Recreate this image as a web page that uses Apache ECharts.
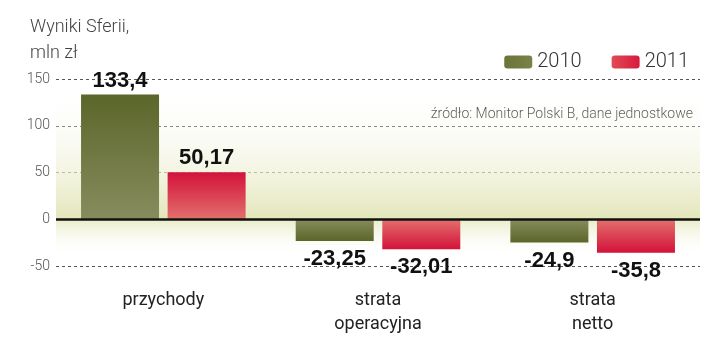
<!DOCTYPE html>
<html><head><meta charset="utf-8">
<script src="https://cdn.jsdelivr.net/npm/echarts@6/dist/echarts.min.js"></script>
<style>html,body{margin:0;padding:0;background:#fff;}#c{width:720px;height:357px;}</style>
</head><body><div id="c"></div>
<script>
var categories = ['przychody', 'strata\noperacyjna', 'strata\nnetto'];
var v2010 = [133.4, -23.25, -24.9];
var v2011 = [50.17, -32.01, -35.8];
var yTicks = [-50, 0, 50, 100, 150];
var seriesNames = ['2010', '2011'];

function grad(top, bottom) {
  return {type: 'linear', x: 0, y: 0, x2: 0, y2: 1, colorStops: [{offset: 0, color: top}, {offset: 1, color: bottom}]};
}
var greenDark = '#5b6629', greenLight = '#878c5e';
var redDark = '#d3123a', redLight = '#e2706d';
function items(vals, dark, light) {
  return vals.map(function (v) {
    return {
      value: v,
      itemStyle: {color: v >= 0 ? grad(dark, light) : grad(light, dark)},
      label: v >= 0 ? {position: 'top', distance: 3} : {position: 'bottom', distance: 7}
    };
  });
}
function fmt(p) { return String(p.value).replace('.', ','); }
var barLabel = {
  show: true, formatter: fmt, fontFamily: '"Liberation Sans", Arial, sans-serif', fontWeight: 'bold',
  fontSize: 22, color: '#111'
};

var chart = echarts.init(document.getElementById('c'), null, {renderer: 'canvas'});
chart.setOption({
  animation: false,
  backgroundColor: '#fff',
  title: {
    text: 'Wyniki Sferii,\nmln zł', left: 25, top: 9,
    textStyle: {fontFamily: 'Roboto', fontWeight: 300, fontSize: 18, color: '#444', lineHeight: 26}
  },
  legend: {
    right: 26, top: 47, itemWidth: 28, itemHeight: 13, itemGap: 30, icon: 'roundRect',
    textStyle: {fontFamily: 'Roboto', fontWeight: 300, fontSize: 20, color: '#333'},
    data: [
      {name: seriesNames[0], itemStyle: {color: {type: 'linear', x: 0, y: 0, x2: 1, y2: 0, colorStops: [{offset: 0, color: '#6b7538'}, {offset: 1, color: '#7a804a'}]}}},
      {name: seriesNames[1], itemStyle: {color: {type: 'linear', x: 0, y: 0, x2: 1, y2: 0, colorStops: [{offset: 0, color: '#e14a55'}, {offset: 1, color: '#d61a3c'}]}}}
    ]
  },
  graphic: [{
    type: 'text', right: 27, top: 107,
    style: {text: 'źródło: Monitor Polski B, dane jednostkowe', font: '300 14px Roboto', fill: '#333'}
  }],
  grid: {left: 56, right: 20, top: 79, bottom: 91},
  xAxis: {
    type: 'category', data: categories,
    axisLine: {show: false}, axisTick: {show: false},
    axisLabel: {fontFamily: 'Roboto', fontSize: 18, color: '#222', lineHeight: 24, margin: 22}
  },
  yAxis: {
    type: 'value', min: yTicks[0], max: yTicks[yTicks.length - 1], interval: 50, z: 1,
    axisLine: {show: false}, axisTick: {show: false},
    axisLabel: {fontFamily: 'Roboto', fontWeight: 300, fontSize: 14, color: '#555', margin: 6},
    splitLine: {show: true, lineStyle: {color: '#555', type: [3, 3], width: 1}}
  },
  series: [
    {
      type: 'line', data: [], z: 0, silent: true,
      markArea: {
        silent: true,
        data: [
          [{yAxis: 145, itemStyle: {color: grad('rgba(255,255,255,0)', '#e3e6b9')}}, {yAxis: 0}],
          [{yAxis: 0, itemStyle: {color: grad('#e9ecc8', 'rgba(255,255,255,0)')}}, {yAxis: -40}]
        ]
      }
    },
    {
      name: seriesNames[0], type: 'bar', data: items(v2010, greenDark, greenLight),
      barWidth: 78, barGap: '11%', z: 2,
      itemStyle: {color: greenDark},
      label: barLabel,
      markLine: {
        silent: true, symbol: 'none', label: {show: false},
        lineStyle: {color: '#111', type: 'solid', width: 2.5},
        data: [{yAxis: 0}]
      }
    },
    {
      name: seriesNames[1], type: 'bar', data: items(v2011, redDark, redLight),
      barWidth: 78, barGap: '11%', z: 2,
      itemStyle: {color: redDark},
      label: barLabel
    }
  ]
});
</script></body></html>
